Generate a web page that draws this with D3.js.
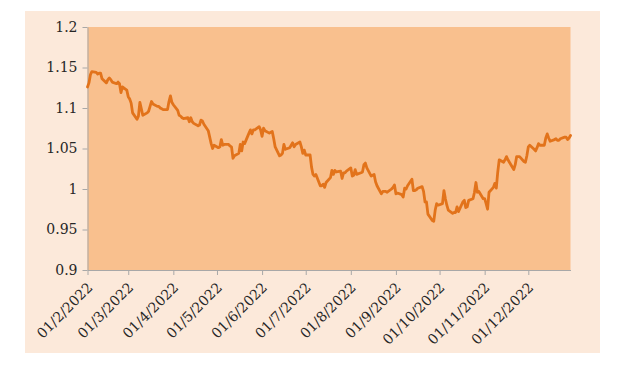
<!DOCTYPE html>
<html><head><meta charset="utf-8">
<script src="https://cdn.jsdelivr.net/npm/d3@7"></script>
<style>html,body{margin:0;padding:0;background:#fff;} svg{display:block;}</style>
</head><body><svg id="c" width="636" height="367"></svg>
<script>
// Daily values (weekdays) per month, 2022
const feb = [1.126, 1.131, 1.141, 1.145, 1.144, 1.142, 1.143, 1.143, 1.136, 1.131, 1.135, 1.137, 1.135, 1.132, 1.130, 1.132, 1.130, 1.119, 1.126, 1.122];
const mar = [1.114, 1.111, 1.106, 1.094, 1.086, 1.090, 1.107, 1.099, 1.091, 1.094, 1.096, 1.102, 1.108, 1.105, 1.102, 1.102, 1.100, 1.099, 1.098, 1.098, 1.108, 1.115, 1.107];
const apr = [1.104, 1.097, 1.091, 1.090, 1.088, 1.087, 1.088, 1.083, 1.088, 1.083, 1.081, 1.078, 1.079, 1.085, 1.084, 1.080, 1.072, 1.064, 1.056, 1.050, 1.054];
const may = [1.051, 1.052, 1.061, 1.054, 1.055, 1.055, 1.053, 1.052, 1.038, 1.041, 1.044, 1.055, 1.047, 1.058, 1.056, 1.069, 1.073, 1.068, 1.073, 1.073, 1.077, 1.073];
const jun = [1.065, 1.075, 1.072, 1.069, 1.070, 1.071, 1.062, 1.052, 1.041, 1.042, 1.044, 1.055, 1.049, 1.051, 1.054, 1.057, 1.052, 1.055, 1.058, 1.052, 1.044, 1.048];
const jul = [1.042, 1.042, 1.027, 1.018, 1.016, 1.018, 1.004, 1.004, 1.006, 1.002, 1.008, 1.014, 1.023, 1.018, 1.023, 1.021, 1.022, 1.013, 1.020, 1.020, 1.022];
const aug = [1.026, 1.016, 1.017, 1.024, 1.018, 1.020, 1.021, 1.030, 1.032, 1.026, 1.016, 1.017, 1.018, 1.009, 1.004, 0.994, 0.997, 0.997, 0.997, 0.996, 1.000, 1.002, 1.005];
const sep = [0.994, 0.995, 0.993, 0.990, 1.001, 1.000, 1.004, 1.012, 0.998, 0.998, 0.999, 1.001, 1.003, 0.997, 0.984, 0.984, 0.969, 0.961, 0.960, 0.974, 0.982, 0.980];
const oct = [0.982, 0.998, 0.988, 0.980, 0.974, 0.970, 0.971, 0.971, 0.978, 0.972, 0.984, 0.986, 0.977, 0.978, 0.986, 0.988, 0.996, 1.008, 0.996, 0.997, 0.988];
const nov = [0.988, 0.982, 0.975, 0.996, 1.002, 1.007, 1.001, 1.021, 1.036, 1.033, 1.036, 1.040, 1.036, 1.033, 1.024, 1.030, 1.040, 1.040, 1.040, 1.034, 1.033, 1.041];
const dec = [1.052, 1.054, 1.049, 1.047, 1.051, 1.056, 1.054, 1.054, 1.063, 1.068, 1.063, 1.059, 1.061, 1.062, 1.060, 1.060, 1.062, 1.064, 1.064, 1.061, 1.063, 1.066];
const monthValues = [feb, mar, apr, may, jun, jul, aug, sep, oct, nov, dec];

const yTicks = [0.9, 0.95, 1, 1.05, 1.1, 1.15, 1.2];
const yTickLabels = ["0.9", "0.95", "1", "1.05", "1.1", "1.15", "1.2"];
const xTickLabels = ["01/2/2022", "01/3/2022", "01/4/2022", "01/5/2022", "01/6/2022", "01/7/2022", "01/8/2022", "01/9/2022", "01/10/2022", "01/11/2022", "01/12/2022"];

// Build data: each month's values on its weekdays
const data = [];
monthValues.forEach((vals, i) => {
  const days = d3.timeDays(new Date(2022, i + 1, 1), new Date(2022, i + 2, 1))
    .filter(d => d.getDay() !== 0 && d.getDay() !== 6);
  vals.forEach((v, j) => { if (days[j]) data.push({date: days[j], value: v}); });
});

const svg = d3.select("#c");
const font = "'DejaVu Serif', serif";

// Outer panel
svg.append("rect").attr("x", 25).attr("y", 11).attr("width", 575).attr("height", 342).attr("fill", "#FCE9DA");

const L = 87.5, R = 570.5, T = 27, B = 270;
const x = d3.scaleTime().domain([new Date(2022, 1, 1), new Date(2022, 11, 30)]).range([L, R]);
const y = d3.scaleLinear().domain([0.9, 1.2]).range([B, T]);

// Plot area
svg.append("rect").attr("x", L).attr("y", T).attr("width", R - L).attr("height", B - T).attr("fill", "#F9C08E");

// Y axis
const gy = svg.append("g").attr("transform", `translate(${L},0)`)
  .call(d3.axisLeft(y).tickValues(yTicks).tickFormat((d, i) => yTickLabels[i]).tickSize(5).tickSizeOuter(0).tickPadding(5));
gy.select(".domain").attr("stroke", "#A8A8A8");
gy.selectAll(".tick line").attr("stroke", "#A8A8A8");
gy.selectAll("text").attr("font-family", font).attr("font-size", 14).attr("fill", "#262626");

// X axis
const monthTicks = d3.timeMonth.range(new Date(2022, 1, 1), new Date(2022, 11, 2));
const gx = svg.append("g").attr("transform", `translate(0,${B})`)
  .call(d3.axisBottom(x).tickValues(monthTicks).tickFormat((d, i) => xTickLabels[i]).tickSize(5).tickSizeOuter(0));
gx.select(".domain").attr("stroke", "#A8A8A8");
gx.selectAll(".tick line").attr("stroke", "#A8A8A8");
gx.selectAll("text")
  .attr("font-family", font).attr("font-size", 14).attr("fill", "#262626")
  .attr("x", 0).attr("y", 0).attr("dy", "0.35em")
  .attr("text-anchor", "end")
  .attr("transform", "translate(2,15) rotate(-45)");

// Line
svg.append("path").datum(data)
  .attr("fill", "none").attr("stroke", "#E2731B").attr("stroke-width", 2.8)
  .attr("stroke-linejoin", "round").attr("stroke-linecap", "round")
  .attr("d", d3.line().x(d => x(d.date)).y(d => y(d.value)));
</script>
</body></html>
